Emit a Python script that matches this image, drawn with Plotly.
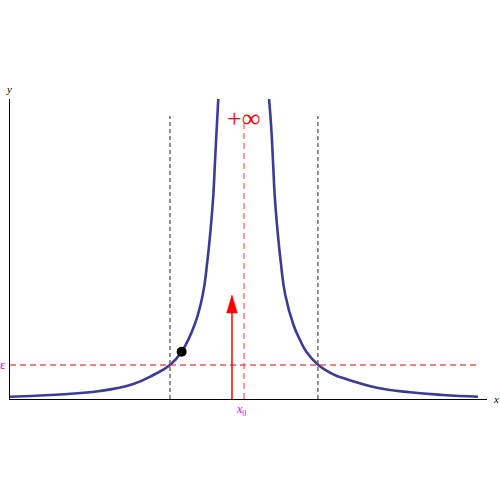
import plotly.graph_objects as go

# Curve points (data units: x 0..8, y 0..5)
left_x = [0.0, 0.671, 1.509, 2.068, 2.403, 2.683, 2.879, 3.094, 3.232, 3.309, 3.366, 3.41, 3.438, 3.467, 3.494]
left_y = [0.038, 0.067, 0.133, 0.25, 0.4, 0.567, 0.788, 1.233, 1.733, 2.288, 2.845, 3.4, 3.955, 4.512, 5.012]
right_x = [4.344, 4.382, 4.411, 4.439, 4.483, 4.54, 4.617, 4.755, 4.864, 4.97, 5.171, 5.446, 5.585, 6.155, 6.709, 7.262, 7.849]
right_y = [5.012, 4.512, 3.955, 3.4, 2.845, 2.288, 1.733, 1.233, 0.983, 0.788, 0.567, 0.4, 0.35, 0.188, 0.112, 0.067, 0.038]

x0 = 3.924          # singular point
epsilon = 0.567     # horizontal threshold
bounds = [2.683, 5.164]  # x where curve crosses epsilon
dot = (2.879, 0.788)
arrow_x = 3.723
arrow_tip = 1.733

curve_color = "#3b3b98"
red = "#ff0000"
magenta = "#e000e0"

fig = go.Figure()
for xs, ys in [(left_x, left_y), (right_x, right_y)]:
    fig.add_trace(go.Scatter(x=xs, y=ys, mode="lines",
                             line=dict(color=curve_color, width=2.6, shape="spline", smoothing=1.3),
                             hoverinfo="skip", showlegend=False))

fig.add_trace(go.Scatter(x=[dot[0]], y=[dot[1]], mode="markers",
                         marker=dict(color="black", size=10), showlegend=False, cliponaxis=False))

shapes = []
for b in bounds:
    shapes.append(dict(type="line", x0=b, x1=b, y0=0, y1=4.717, xref="x", yref="y",
                       line=dict(color="#555555", width=1.3, dash="4px,3px")))
shapes.append(dict(type="line", x0=x0, x1=x0, y0=0, y1=4.6, xref="x", yref="y",
                   line=dict(color="rgba(255,60,60,0.8)", width=1.3, dash="6px,4px")))
shapes.append(dict(type="line", x0=0, x1=7.85, y0=epsilon, y1=epsilon, xref="x", yref="y",
                   line=dict(color="rgba(220,50,50,0.8)", width=1.3, dash="6px,4px")))
# arrow
head_base = arrow_tip - 0.3
shapes.append(dict(type="line", x0=arrow_x, x1=arrow_x, y0=0, y1=head_base, xref="x", yref="y",
                   line=dict(color=red, width=1.5)))
hw = 0.09
shapes.append(dict(type="path",
                   path=f"M {arrow_x - hw} {head_base} L {arrow_x} {arrow_tip} L {arrow_x + hw} {head_base} Z",
                   xref="x", yref="y", fillcolor=red, line=dict(color=red, width=0.5)))

annotations = [
    dict(x=0, y=1, xref="paper", yref="paper", text="<i>y</i>", showarrow=False,
         xanchor="center", yanchor="bottom", yshift=2, xshift=-1,
         font=dict(family="Liberation Serif", size=11, color="black")),
    dict(x=1, y=0, xref="paper", yref="paper", text="<i>x</i>", showarrow=False,
         xanchor="left", yanchor="middle", xshift=4,
         font=dict(family="Liberation Serif", size=11, color="black")),
    dict(x=x0, y=0, xref="x", yref="y", text="<i>x</i><sub>0</sub>", showarrow=False,
         xanchor="center", yanchor="top", xshift=-2, yshift=-1,
         font=dict(family="Liberation Serif", size=12, color=magenta)),
    dict(x=0, y=epsilon, xref="x", yref="y", text="ε", showarrow=False,
         xanchor="right", yanchor="middle", xshift=-2,
         font=dict(family="Liberation Serif", size=13, color=magenta)),
    dict(x=x0, y=4.683, xref="x", yref="y", text="+∞", showarrow=False,
         xanchor="center", yanchor="middle", xshift=0,
         font=dict(family="Liberation Serif", size=26, color=red)),
]

fig.update_layout(
    width=500, height=500,
    margin=dict(l=10, r=13, t=99, b=101),
    plot_bgcolor="white", paper_bgcolor="white",
    xaxis=dict(range=[0, 8], showgrid=False, zeroline=False, showticklabels=False,
               ticks="", showline=True, linecolor="black", linewidth=1.3),
    yaxis=dict(range=[0, 5], showgrid=False, zeroline=False, showticklabels=False,
               ticks="", showline=True, linecolor="black", linewidth=1.3),
    shapes=shapes, annotations=annotations,
)

fig.write_html("out.html", config={"displayModeBar": False},
               post_script="document.body.style.margin='0px';")
